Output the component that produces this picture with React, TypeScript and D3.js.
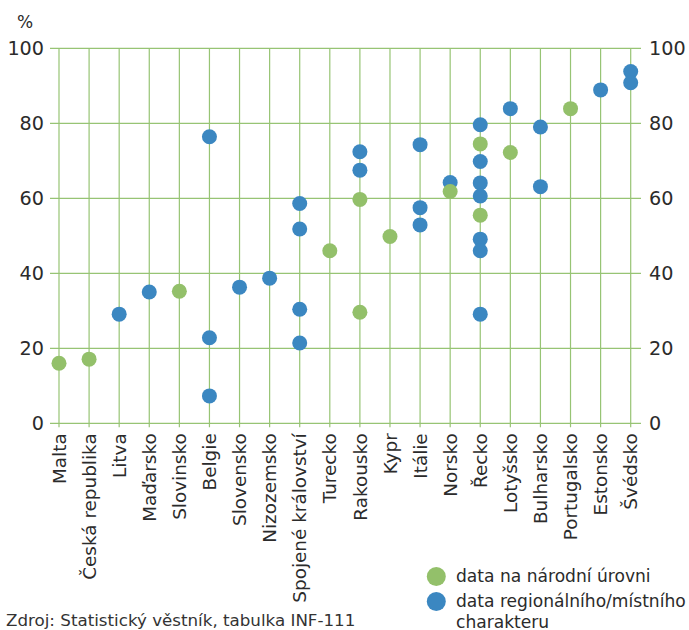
import React, { useEffect, useRef } from "react";
import * as d3 from "d3";

const countries = ["Malta", "Česká republika", "Litva", "Maďarsko", "Slovinsko", "Belgie", "Slovensko", "Nizozemsko",
  "Spojené království", "Turecko", "Rakousko", "Kypr", "Itálie", "Norsko", "Řecko", "Lotyšsko", "Bulharsko",
  "Portugalsko", "Estonsko", "Švédsko"];

// data na národní úrovni
const nationalCountry = ["Malta", "Česká republika", "Slovinsko", "Turecko", "Rakousko", "Rakousko", "Kypr", "Norsko",
  "Řecko", "Řecko", "Lotyšsko", "Portugalsko"];
const nationalValue = [16.0, 17.1, 35.2, 46.0, 29.6, 59.7, 49.8, 61.8, 74.5, 55.5, 72.2, 83.9];

// data regionálního/místního charakteru
const regionalCountry = ["Litva", "Maďarsko", "Belgie", "Belgie", "Belgie", "Slovensko", "Nizozemsko",
  "Spojené království", "Spojené království", "Spojené království", "Spojené království",
  "Rakousko", "Rakousko", "Itálie", "Itálie", "Itálie", "Norsko",
  "Řecko", "Řecko", "Řecko", "Řecko", "Řecko", "Řecko", "Řecko",
  "Lotyšsko", "Bulharsko", "Bulharsko", "Estonsko", "Švédsko", "Švédsko"];
const regionalValue = [29.1, 35.0, 76.4, 22.8, 7.3, 36.3, 38.7,
  58.6, 51.8, 30.4, 21.4,
  72.4, 67.5, 74.3, 57.5, 52.9, 64.2,
  79.6, 69.8, 64.1, 60.6, 49.1, 46.0, 29.1,
  83.9, 79.0, 63.1, 88.9, 93.8, 90.8];

const yTicks = [0, 20, 40, 60, 80, 100];

const GREEN = "#93c06a";
const BLUE = "#3b87c1";
const GRID = "#97c474";
const FONT = "'DejaVu Sans', 'Open Sans', sans-serif";
const TEXT = "#2b2b2b";

export default function App() {
  const ref = useRef<SVGSVGElement>(null);

  useEffect(() => {
    const svg = d3.select(ref.current);
    svg.selectAll("*").remove();

    const left = 50, right = 641, top = 48.3, bottom = 423.3;

    const x = d3.scalePoint().domain(countries).range([59, 630.7]);
    const y = d3.scaleLinear().domain([0, 100]).range([bottom, top]);

    const g = svg.append("g");

    // horizontal grid
    g.selectAll("line.h")
      .data(yTicks)
      .enter()
      .append("line")
      .attr("x1", left)
      .attr("x2", right)
      .attr("y1", d => y(d))
      .attr("y2", d => y(d))
      .attr("stroke", GRID)
      .attr("stroke-width", 1.2)

    // vertical grid + ticks
    g.selectAll("line.v")
      .data(countries)
      .enter()
      .append("line")
      .attr("x1", d => x(d))
      .attr("x2", d => x(d))
      .attr("y1", top)
      .attr("y2", bottom + 4)
      .attr("stroke", GRID)
      .attr("stroke-width", 1.2)

    // y labels left and right
    g.selectAll("text.yl")
      .data(yTicks)
      .enter()
      .append("text")
      .attr("x", 44)
      .attr("y", d => y(d))
      .attr("dy", "0.36em")
      .attr("text-anchor", "end")
      .style("font-family", FONT)
      .style("font-size", "19.2px")
      .style("fill", TEXT)
      .text(d => d)

    g.selectAll("text.yr")
      .data(yTicks)
      .enter()
      .append("text")
      .attr("x", 649)
      .attr("y", d => y(d))
      .attr("dy", "0.36em")
      .attr("text-anchor", "start")
      .style("font-family", FONT)
      .style("font-size", "19.2px")
      .style("fill", TEXT)
      .text(d => d)

    svg.append("text")
      .attr("x", 17)
      .attr("y", 28)
      .style("font-family", FONT)
      .style("font-size", "17px")
      .style("fill", TEXT)
      .text("%")

    // category labels
    g.selectAll("text.cat")
      .data(countries)
      .enter()
      .append("text")
      .attr("transform", d => "translate(" + x(d) + "," + (bottom + 10) + ") rotate(-90)")
      .attr("dy", "0.36em")
      .attr("text-anchor", "end")
      .style("font-family", FONT)
      .style("font-size", "18.4px")
      .style("fill", TEXT)
      .text(d => d)

    // points, drawn from highest to lowest so lower ones sit on top
    const pts = nationalCountry.map((c, i) => ({ c, v: nationalValue[i], col: GREEN }))
      .concat(regionalCountry.map((c, i) => ({ c, v: regionalValue[i], col: BLUE })))
      .sort((a, b) => b.v - a.v);

    g.selectAll("circle.pt")
      .data(pts)
      .enter()
      .append("circle")
      .attr("cx", d => x(d.c))
      .attr("cy", d => y(d.v))
      .attr("r", 7.5)
      .attr("fill", d => d.col)

    // legend
    const legend = [
      { col: GREEN, lines: ["data na národní úrovni"], cy: 576.5 },
      { col: BLUE, lines: ["data regionálního/místního", "charakteru"], cy: 601.5 },
    ];
    legend.forEach(l => {
      svg.append("circle").attr("cx", 436.3).attr("cy", l.cy).attr("r", 9.5).attr("fill", l.col)
      l.lines.forEach((t, i) => {
        svg.append("text")
          .attr("x", 456)
          .attr("y", l.cy + i * 21.6)
          .attr("dy", "0.3em")
          .style("font-family", FONT)
          .style("font-size", "17.1px")
          .style("fill", TEXT)
          .text(t)
      })
    })

    svg.append("text")
      .attr("x", 6)
      .attr("y", 620)
      .attr("dy", "0.33em")
      .style("font-family", FONT)
      .style("font-size", "16.7px")
      .style("fill", "#333")
      .text("Zdroj: Statistický věstník, tabulka INF-111")
  }, []);

  return (
    <svg ref={ref} width={689} height={630}
      style={{ position: "absolute", left: 0, top: 0, background: "#fff" }} />
  );
}
